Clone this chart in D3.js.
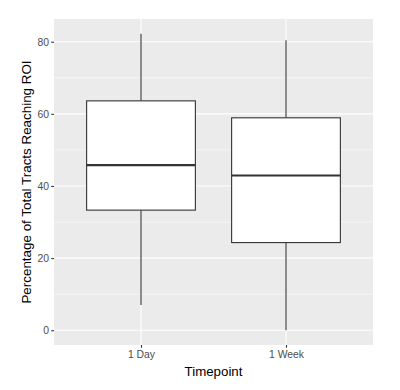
<!DOCTYPE html>
<html><head><meta charset="utf-8">
<script src="https://cdn.jsdelivr.net/npm/d3@7"></script>
<style>body{margin:0;background:#fff}svg{display:block}</style>
</head><body>
<script>
const categories = ["1 Day", "1 Week"];
const whiskerLow = [7.0, 0.0];
const q1 = [33.3, 24.3];
const median = [45.8, 42.9];
const q3 = [63.6, 58.9];
const whiskerHigh = [82.2, 80.4];
const yTicks = [0, 20, 40, 60, 80];
const yMinor = [10, 30, 50, 70];

const W = 400, H = 390;
const panel = {left: 54, right: 373, top: 19, bottom: 345};
const svg = d3.select("body").append("svg").attr("width", W).attr("height", H);
const font = "'Liberation Sans', Arial, Helvetica, sans-serif";

const y = d3.scaleLinear().domain([-4.1, 86.3]).range([panel.bottom, panel.top]);
const xPos = d3.scaleLinear().domain([0.4, 2.6]).range([panel.left, panel.right]);
const boxW = xPos(1.375) - xPos(1);

svg.append("rect").attr("x", panel.left).attr("y", panel.top)
  .attr("width", panel.right - panel.left).attr("height", panel.bottom - panel.top)
  .attr("fill", "#ebebeb");

// minor grid
svg.selectAll(".minor").data(yMinor).enter().append("line")
  .attr("x1", panel.left).attr("x2", panel.right)
  .attr("y1", d => y(d)).attr("y2", d => y(d))
  .attr("stroke", "#fff").attr("stroke-width", 0.55);
// major grid
svg.selectAll(".major").data(yTicks).enter().append("line")
  .attr("x1", panel.left).attr("x2", panel.right)
  .attr("y1", d => y(d)).attr("y2", d => y(d))
  .attr("stroke", "#fff").attr("stroke-width", 1.1);
svg.selectAll(".vmajor").data(categories).enter().append("line")
  .attr("x1", (d, i) => xPos(i + 1)).attr("x2", (d, i) => xPos(i + 1))
  .attr("y1", panel.top).attr("y2", panel.bottom)
  .attr("stroke", "#fff").attr("stroke-width", 1.1);

// boxes
const g = svg.selectAll(".box").data(categories).enter().append("g");
g.append("line")
  .attr("x1", (d, i) => xPos(i + 1)).attr("x2", (d, i) => xPos(i + 1))
  .attr("y1", (d, i) => y(q3[i])).attr("y2", (d, i) => y(whiskerHigh[i]))
  .attr("stroke", "#333").attr("stroke-width", 1.1);
g.append("line")
  .attr("x1", (d, i) => xPos(i + 1)).attr("x2", (d, i) => xPos(i + 1))
  .attr("y1", (d, i) => y(q1[i])).attr("y2", (d, i) => y(whiskerLow[i]))
  .attr("stroke", "#333").attr("stroke-width", 1.1);
g.append("rect")
  .attr("x", (d, i) => xPos(i + 1) - boxW).attr("width", 2 * boxW)
  .attr("y", (d, i) => y(q3[i])).attr("height", (d, i) => y(q1[i]) - y(q3[i]))
  .attr("fill", "#fff").attr("stroke", "#333").attr("stroke-width", 1.1);
g.append("line")
  .attr("x1", (d, i) => xPos(i + 1) - boxW).attr("x2", (d, i) => xPos(i + 1) + boxW)
  .attr("y1", (d, i) => y(median[i])).attr("y2", (d, i) => y(median[i]))
  .attr("stroke", "#333").attr("stroke-width", 2.2);

// y axis
const yAxis = svg.append("g").attr("transform", `translate(${panel.left},0)`)
  .call(d3.axisLeft(y).tickValues(yTicks).tickSize(2.75).tickPadding(2.2));
yAxis.select(".domain").remove();
yAxis.selectAll(".tick line").attr("stroke", "#333").attr("stroke-width", 1.1);
yAxis.selectAll(".tick text").attr("fill", "#4d4d4d").style("font-family", font).style("font-size", "10.4px");

// x axis
const xAxis = svg.append("g").attr("transform", `translate(0,${panel.bottom})`)
  .call(d3.axisBottom(xPos).tickValues([1, 2]).tickFormat((d) => categories[d - 1]).tickSize(2.75).tickPadding(3));
xAxis.select(".domain").remove();
xAxis.selectAll(".tick line").attr("stroke", "#333").attr("stroke-width", 1.1);
xAxis.selectAll(".tick text").attr("fill", "#4d4d4d").style("font-family", font).style("font-size", "10.4px");

// titles
svg.append("text").attr("x", (panel.left + panel.right) / 2).attr("y", 375.5)
  .attr("text-anchor", "middle").style("font-family", font).style("font-size", "13.3px")
  .attr("fill", "#000").text("Timepoint");
svg.append("text").attr("transform", `translate(31,${(panel.top + panel.bottom) / 2}) rotate(-90)`)
  .attr("text-anchor", "middle").style("font-family", font).style("font-size", "13.4px")
  .attr("fill", "#000").text("Percentage of Total Tracts Reaching ROI");
</script>
</body></html>
